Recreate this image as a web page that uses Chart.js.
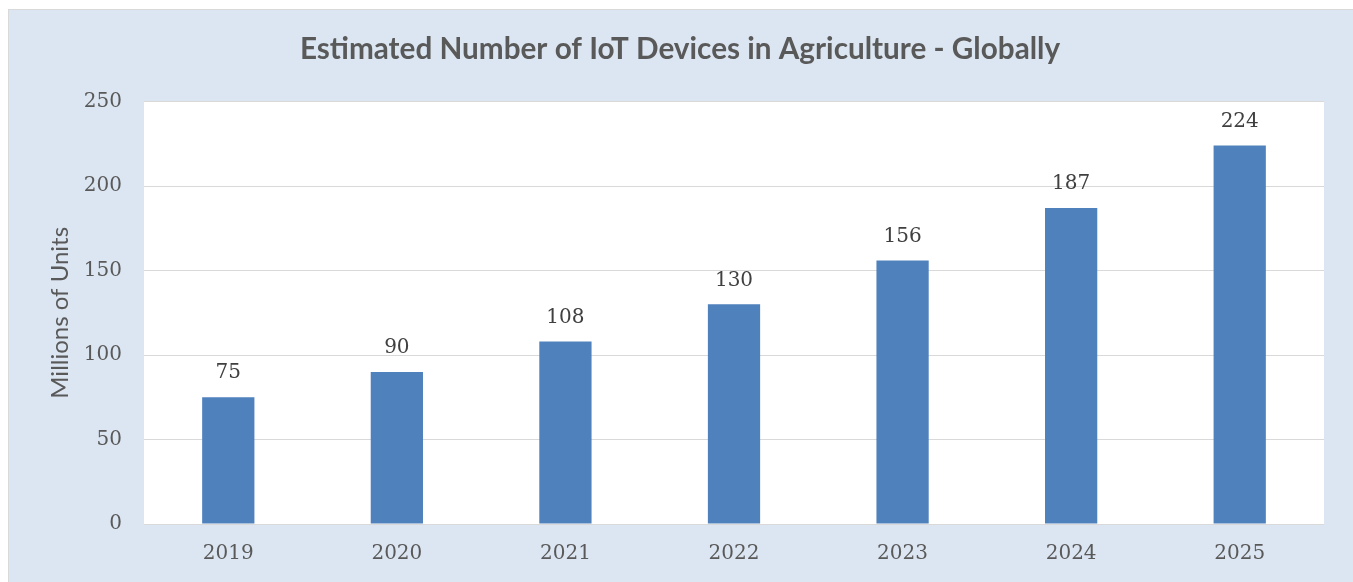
<!DOCTYPE html>
<html>
<head>
<meta charset="utf-8">
<script src="https://cdn.jsdelivr.net/npm/chart.js@4.4.1/dist/chart.umd.min.js"></script>
<style>
  html, body { margin: 0; padding: 0; background: #ffffff; }
  #wrap { width: 1353px; height: 582px; }
</style>
</head>
<body>
<div id="wrap"><canvas id="chart" width="1353" height="582"></canvas></div>
<script>
const years = ['2019', '2020', '2021', '2022', '2023', '2024', '2025'];
const devices = [75, 90, 108, 130, 156, 187, 224];
const chartTitle = 'Estimated Number of IoT Devices in Agriculture - Globally';
const yTitle = 'Millions of Units';

const serif = "'DejaVu Serif', serif";
const sans = "Lato, 'Open Sans', sans-serif";

// background panel + white plot area
const panelBg = {
  id: 'panelBg',
  beforeDraw(chart) {
    const { ctx, chartArea } = chart;
    ctx.save();
    ctx.fillStyle = '#ffffff';
    ctx.fillRect(0, 0, chart.width, chart.height);
    ctx.fillStyle = '#dce6f2';
    ctx.fillRect(8, 9, chart.width - 8, chart.height - 9);
    ctx.strokeStyle = '#d9d9d9';
    ctx.lineWidth = 1;
    ctx.strokeRect(8.5, 9.5, chart.width, chart.height);
    ctx.fillStyle = '#ffffff';
    ctx.fillRect(chartArea.left, chartArea.top, chartArea.right - chartArea.left, chartArea.bottom - chartArea.top);
    ctx.restore();
  }
};

// value labels above each bar
const barValues = {
  id: 'barValues',
  afterDatasetsDraw(chart) {
    const { ctx } = chart;
    const meta = chart.getDatasetMeta(0);
    ctx.save();
    ctx.font = '20px ' + serif;
    ctx.fillStyle = '#404040';
    ctx.textAlign = 'center';
    ctx.textBaseline = 'middle';
    meta.data.forEach((bar, i) => {
      ctx.fillText(String(devices[i]), bar.x, bar.y - 24);
    });
    ctx.restore();
  }
};

new Chart(document.getElementById('chart'), {
  type: 'bar',
  data: {
    labels: years,
    datasets: [{
      data: devices,
      backgroundColor: '#4f81bd',
      borderWidth: 0,
      barPercentage: 1,
      categoryPercentage: 0.31
    }]
  },
  options: {
    responsive: false,
    animation: false,
    layout: { padding: { left: 36, right: 29, top: 0, bottom: 0 } },
    plugins: {
      legend: { display: false },
      tooltip: { enabled: false },
      title: {
        display: true,
        text: chartTitle,
        color: '#595959',
        font: { family: sans, size: 29.7, weight: 'bold' },
        padding: { top: 32, bottom: 34 }
      }
    },
    scales: {
      x: {
        grid: { display: false, drawTicks: false },
        border: { display: false },
        ticks: { color: '#595959', font: { family: serif, size: 20 }, padding: 18 },
        afterFit(scale) { scale.height = 58; }
      },
      y: {
        min: 0,
        max: 250,
        grid: { color: '#d9d9d9', lineWidth: 1, drawTicks: false },
        border: { display: false },
        ticks: { stepSize: 50, color: '#595959', font: { family: serif, size: 20 }, padding: 22 },
        title: {
          display: true,
          text: yTitle,
          color: '#595959',
          font: { family: sans, size: 24 },
          padding: { top: 10, bottom: 0 }
        },
        afterFit(scale) { scale.width = 108; }
      }
    }
  },
  plugins: [panelBg, barValues]
});
</script>
</body>
</html>
